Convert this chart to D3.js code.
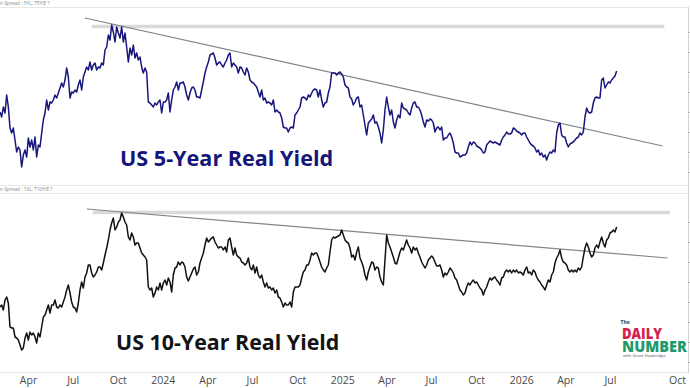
<!DOCTYPE html>
<html><head><meta charset="utf-8">
<script src="https://cdn.jsdelivr.net/npm/d3@7"></script>
<style>html,body{margin:0;padding:0;background:#fff;}svg{display:block;font-family:"Open Sans",sans-serif;}</style>
</head><body><svg id="c" width="690" height="388"></svg>
<script>
// ---- data (percent) ----
const startDate = "2023-02-02T21:36:00Z";
const stepHours = 81.58; // sampling interval of the readings
const real5y = [
1.60,1.55,1.65,1.59,1.77,1.65,1.44,1.39,1.44,1.32,1.20,1.25,1.22,1.05,1.17,1.22,1.15,1.34,1.25,1.32,
1.22,1.35,1.15,1.27,1.25,1.39,1.52,1.59,1.72,1.62,1.70,1.69,1.72,1.77,1.74,1.79,1.84,1.89,1.85,1.92,
2.04,1.95,1.74,1.80,1.79,1.82,1.80,1.87,1.92,1.82,1.95,2.00,2.05,2.02,2.10,2.02,2.07,2.09,2.02,2.05,
2.04,2.09,2.07,2.22,2.25,2.37,2.32,2.47,2.40,2.30,2.45,2.39,2.34,2.45,2.30,2.39,2.25,2.10,2.24,2.17,
2.27,2.14,2.19,2.12,2.15,2.05,1.99,2.04,2.00,1.70,1.69,1.67,1.65,1.69,1.67,1.70,1.72,1.59,1.70,1.70,
1.72,1.79,1.60,1.72,1.82,1.85,1.90,1.82,1.89,1.89,1.90,1.85,1.77,1.72,1.79,1.84,1.85,1.82,1.75,1.75,
1.74,1.82,1.90,1.99,2.05,2.10,2.17,2.18,2.19,2.14,2.07,2.09,2.10,2.07,2.05,2.09,2.12,2.17,2.19,2.05,
2.09,2.07,2.05,1.99,2.05,2.04,2.00,1.97,2.04,2.00,1.92,1.90,1.89,1.87,1.85,1.80,1.75,1.82,1.72,1.74,
1.69,1.70,1.69,1.67,1.72,1.60,1.62,1.60,1.59,1.54,1.45,1.44,1.44,1.40,1.44,1.45,1.44,1.57,1.59,1.62,
1.65,1.74,1.75,1.74,1.72,1.77,1.75,1.79,1.82,1.83,1.82,1.75,1.82,1.72,1.65,1.69,1.70,1.79,1.85,1.99,
1.99,1.99,1.97,1.99,2.00,1.98,1.95,
1.87,1.85,1.84,1.75,1.73,1.67,1.70,1.74,1.75,1.65,1.67,1.57,1.47,1.37,1.49,1.51,1.53,1.57,1.49,1.50,
1.45,1.39,1.29,1.42,1.62,1.75,1.65,1.57,1.62,1.50,1.44,1.52,1.57,1.54,1.69,1.64,1.63,1.62,1.59,1.57,
1.64,1.69,1.70,1.65,1.65,1.62,1.57,1.50,1.45,1.52,1.51,1.53,1.52,1.49,1.40,1.44,1.45,1.42,1.45,1.32,
1.34,1.34,1.37,1.39,1.35,1.29,1.20,1.19,1.19,1.15,1.16,1.17,1.17,1.19,1.25,1.30,1.27,1.30,1.29,1.26,
1.25,1.24,1.22,1.19,1.20,1.27,1.29,1.31,1.30,1.29,1.30,1.29,1.28,1.27,1.32,1.35,1.37,1.40,1.38,1.38,
1.39,1.44,1.43,1.41,1.40,1.39,1.37,1.39,1.39,1.35,1.32,1.29,1.27,1.26,1.24,1.20,1.22,1.17,1.19,1.15,
1.17,1.12,1.17,1.20,1.19,1.22,1.20,1.39,1.47,1.49,1.37,1.35,1.35,1.29,1.25,1.28,1.29,1.30,1.32,1.34,
1.35,1.39,1.37,1.40,1.55,1.64,1.60,1.59,1.60,1.69,1.74,1.75,1.74,1.74,1.92,1.94,1.84,1.87,1.90,1.89,
1.92,1.94,1.96,2.01
];
const real10y = [
1.55,1.57,1.52,1.62,1.65,1.59,1.35,1.34,1.34,1.25,1.24,1.22,1.17,1.12,1.14,1.24,1.29,1.22,1.30,1.27,
1.29,1.25,1.19,1.29,1.25,1.35,1.45,1.47,1.52,1.57,1.49,1.57,1.57,1.62,1.55,1.54,1.57,1.55,1.60,1.65,
1.72,1.77,1.69,1.60,1.55,1.54,1.50,1.59,1.72,1.80,1.74,1.85,1.89,1.97,1.97,1.89,1.85,1.87,1.90,1.95,
1.95,1.92,1.99,2.07,2.14,2.22,2.32,2.39,2.44,2.32,2.35,2.40,2.42,2.49,2.45,2.40,2.37,2.25,2.22,2.29,
2.25,2.17,2.19,2.19,2.14,2.09,2.07,2.05,2.02,1.75,1.72,1.74,1.65,1.69,1.75,1.72,1.79,1.72,1.79,1.82,
1.77,1.84,1.80,1.70,1.87,1.94,1.95,2.00,1.97,2.00,1.99,1.95,1.85,1.81,1.85,1.89,1.93,1.95,1.87,1.90,
1.99,2.04,2.09,2.17,2.24,2.20,2.22,2.24,2.25,2.20,2.17,2.14,2.15,2.15,2.12,2.15,2.10,2.22,2.24,2.15,
2.07,2.14,2.07,2.05,2.04,2.00,1.99,1.97,1.99,2.04,1.95,1.92,1.97,1.89,1.95,1.87,1.84,1.87,1.80,1.75,
1.79,1.74,1.75,1.72,1.74,1.69,1.72,1.65,1.64,1.60,1.55,1.59,1.57,1.57,1.60,1.55,1.70,1.75,1.75,1.75,
1.77,1.84,1.90,1.92,1.97,1.97,2.02,2.09,2.07,2.09,2.09,2.05,2.00,1.95,1.92,1.90,1.94,1.97,2.10,2.22,
2.25,2.24,2.25,2.26,2.27,2.32,2.27,
2.22,2.20,2.19,2.14,2.05,2.07,2.02,2.10,2.15,2.04,2.00,1.95,1.87,1.82,1.90,1.95,2.00,1.99,1.92,1.95,
1.94,1.85,1.80,1.77,2.02,2.27,2.19,2.15,2.10,2.05,1.99,1.98,2.04,2.10,2.14,2.12,2.17,2.22,2.17,2.14,
2.09,2.15,2.12,2.14,2.09,2.05,2.00,1.97,1.94,1.97,2.02,2.04,2.06,2.04,2.00,1.96,1.96,1.97,1.92,1.85,
1.89,1.87,1.90,1.94,1.92,1.89,1.84,1.82,1.77,1.72,1.70,1.67,1.69,1.75,1.79,1.77,1.80,1.82,1.79,1.80,
1.77,1.74,1.72,1.67,1.72,1.75,1.80,1.84,1.82,1.84,1.85,1.82,1.80,1.77,1.84,1.85,1.90,1.92,1.90,1.92,
1.89,1.92,1.90,1.92,1.89,1.90,1.89,1.87,1.92,1.95,1.89,1.90,1.87,1.92,1.90,1.85,1.82,1.80,1.77,1.75,
1.72,1.77,1.82,1.80,1.87,1.90,1.99,2.04,2.07,2.12,2.04,2.00,1.99,1.97,1.92,1.90,1.92,1.90,1.92,1.90,
1.94,1.92,1.95,2.05,2.14,2.19,2.15,2.09,2.05,2.07,2.14,2.17,2.14,2.20,2.25,2.19,2.15,2.22,2.24,2.29,
2.30,2.32,2.30,2.35
];
const trend5y  = [["2023-07-26", 2.54], ["2026-09-13", 1.26]];
const band5y   = [["2023-08-09", 2.455], ["2026-09-15", 2.455]];
const trend10y = [["2023-07-30", 2.53], ["2026-09-19", 2.04]];
const band10y  = [["2023-08-11", 2.495], ["2026-09-22", 2.495]];
const tickDates  = ["2023-04-01","2023-07-01","2023-10-01","2024-01-01","2024-04-01","2024-07-01","2024-10-01",
                    "2025-01-01","2025-04-01","2025-07-01","2025-10-01","2026-01-01","2026-04-01","2026-07-01","2026-10-01"];
const tickLabels = ["Apr","Jul","Oct","2024","Apr","Jul","Oct","2025","Apr","Jul","Oct","2026","Apr","Jul","Oct"];
const titles = ["US 5-Year Real Yield", "US 10-Year Real Yield"];
const headers = ["n Spread : 5YL, T5YIE ?", "n Spread : 10L, T10YIE ?"];

// ---- drawing ----
const svg = d3.select("#c");
const P = d3.utcParse("%Y-%m-%d");
const t0 = new Date(startDate).getTime();
const dateAt = i => new Date(t0 + i * stepHours * 3600000);

const x = d3.scaleUtc()
  .domain([P("2023-04-01"), P("2026-07-20"), P("2026-10-01")])
  .range([28, 619.3, 677]);
const yTop = d3.scaleLinear().domain([1.0, 2.5]).range([172, 22]);
const yBot = d3.scaleLinear().domain([1.0, 2.5]).range([362, 212]);

svg.append("rect").attr("width",690).attr("height",388).attr("fill","#fff");

// frame lines
const frame = svg.append("g").attr("stroke","#e6e6e6").attr("stroke-width",1);
[7.5,185.5,193.5,372.5].forEach(yy=>frame.append("line").attr("x1",0).attr("x2",688).attr("y1",yy).attr("y2",yy));
svg.append("line").attr("x1",688.5).attr("x2",688.5).attr("y1",7).attr("y2",373).attr("stroke","#d4d4d4");
[[yTop,[8,185]],[yBot,[194,372]]].forEach(([ys,lim])=>{
  ys.ticks(8).forEach(v=>{const yy=ys(v); if(yy>lim[0]&&yy<lim[1]) svg.append("line").attr("x1",688).attr("x2",690).attr("y1",Math.round(yy)+.5).attr("y2",Math.round(yy)+.5).attr("stroke","#bbb");});
});

// headers
svg.append("text").attr("x",0).attr("y",5).attr("font-size",4.8).attr("fill","#888").text(headers[0]);
svg.append("text").attr("x",0).attr("y",191).attr("font-size",4.8).attr("fill","#888").text(headers[1]);

function panel(ys, vals, trend, band, color){
  const lineD = d3.line().x(d=>x(P(d[0]))).y(d=>ys(d[1]));
  svg.append("path").attr("d",lineD(band)).attr("stroke","#d9d9d9").attr("stroke-width",3.6).attr("fill","none");
  svg.append("path").attr("d",lineD(trend)).attr("stroke","#7d858d").attr("stroke-width",1.2).attr("fill","none");
  const l = d3.line().x((d,i)=>x(dateAt(i))).y(d=>ys(d));
  svg.append("path").attr("d",l(vals)).attr("stroke",color).attr("stroke-width",1.5)
     .attr("stroke-linejoin","round").attr("fill","none");
}
panel(yTop, real5y, trend5y, band5y, "#16167c");
panel(yBot, real10y, trend10y, band10y, "#111111");

// titles
svg.append("text").attr("x",120).attr("y",166).attr("font-size",21.6).attr("font-weight",700)
  .attr("fill","#15157a").text(titles[0]);
svg.append("text").attr("x",116).attr("y",350).attr("font-size",21.4).attr("font-weight",700)
  .attr("fill","#141414").text(titles[1]);

// x axis
const ax = svg.append("g").attr("transform","translate(0,373)")
  .call(d3.axisBottom(x).tickValues(tickDates.map(P)).tickSize(0).tickPadding(0)
        .tickFormat((d,i)=>tickLabels[i]));
ax.select(".domain").remove();
ax.selectAll("text").attr("font-family","'Open Sans',sans-serif").attr("font-size",10.5)
  .attr("fill","#4a4a4a").attr("dy",0).attr("y",10.5);

// logo
const lg = svg.append("g").attr("font-family","'Open Sans',sans-serif");
lg.append("text").attr("x",620.5).attr("y",323.5).attr("font-size",5).attr("font-weight",700).attr("fill","#3a3a3a").text("The");
lg.append("text").attr("x",622).attr("y",338.5).attr("font-size",15.5).attr("font-weight",800).attr("fill","#d4224d")
  .attr("textLength",40).attr("lengthAdjust","spacingAndGlyphs").text("DAILY");
lg.append("text").attr("x",622).attr("y",351.8).attr("font-size",15.5).attr("font-weight",800).attr("fill","#1f9a6c")
  .attr("textLength",65).attr("lengthAdjust","spacingAndGlyphs").text("NUMBER");
lg.append("text").attr("x",623).attr("y",357).attr("font-size",4.2).attr("fill","#555").text("with Grant Hawkridge");
</script></body></html>
